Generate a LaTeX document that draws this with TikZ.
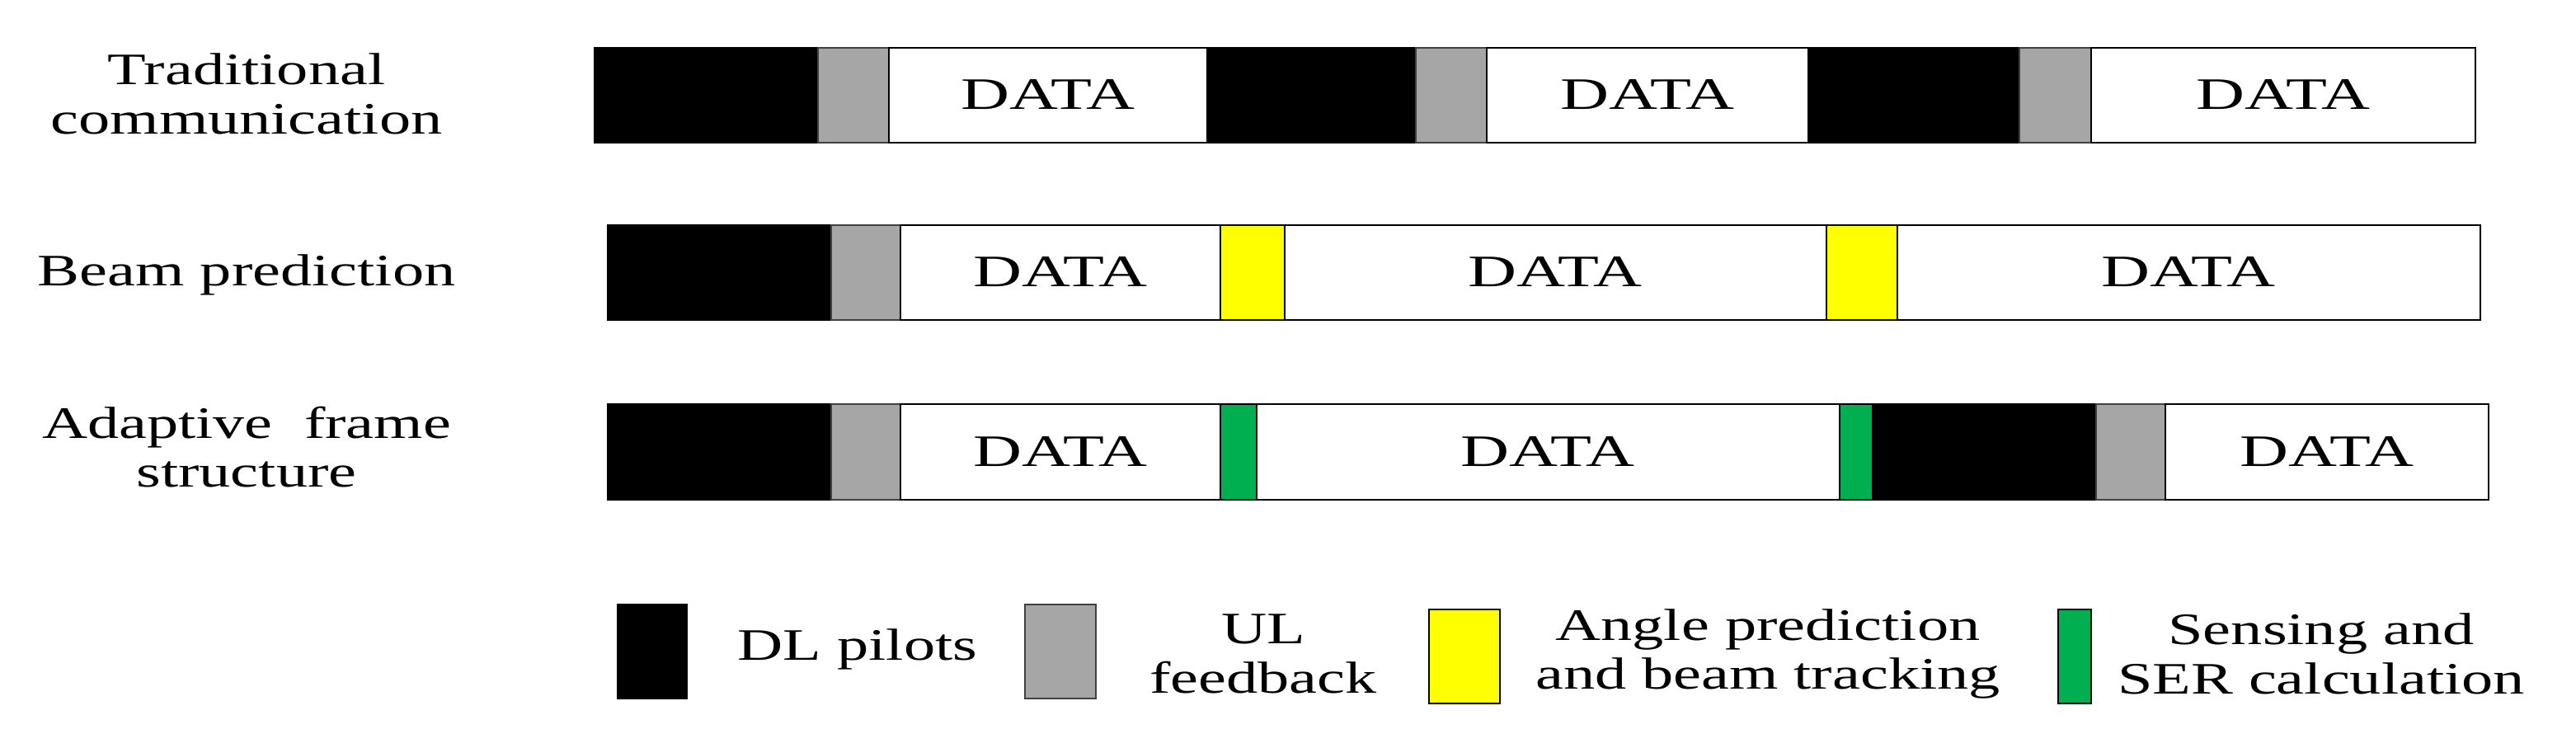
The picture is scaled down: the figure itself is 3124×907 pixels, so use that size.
\documentclass[tikz,border=0pt]{standalone}
\usepackage{fontspec}
\setmainfont{Liberation Serif}
\definecolor{ulgray}{HTML}{A6A6A6}
\definecolor{trackyellow}{HTML}{FFFF00}
\definecolor{sensegreen}{HTML}{00B050}

\begin{document}
\begin{tikzpicture}[x=0.01cm, y=-0.01cm, line width=0.7pt,
    pilot/.style={fill=black, draw=black},
    feedback/.style={fill=ulgray, draw=black!75},
    predict/.style={fill=trackyellow, draw=black},
    sense/.style={fill=sensegreen, draw=black},
    payload/.style={fill=white, draw=black},
    txt/.style={font=\fontsize{15.5}{17}\selectfont, xscale=1.4, align=center, inner sep=0pt},
    datatxt/.style={txt, xscale=1.07}]

\useasboundingbox (0,0) rectangle (3124,907);

% row labels
\node[txt] (lblTrad) at (299,114) {Traditional\\communication};
\node[txt] (lblBeam) at (299,333) {Beam prediction};
\node[txt] (lblAdapt) at (299,542) {Adaptive\ \ frame\\structure};

% traditional communication
\foreach \xa/\xb/\kind in {
                721/992/pilot, 992/1078/feedback, 1078/1464/payload,
                1464/1717/pilot, 1717/1803/feedback, 1803/2193/payload,
                2193/2449/pilot, 2449/2536/feedback, 2536/3002/payload}{
    \draw[\kind] (\xa,58) rectangle (\xb,173);
    };

% beam prediction
\foreach \xa/\xb/\kind in {
                737/1008/pilot, 1008/1092/feedback, 1092/1480/payload,
                1480/1558/predict, 1558/2215/payload,
                2215/2301/predict, 2301/3008/payload}{
    \draw[\kind] (\xa,273) rectangle (\xb,388);
    };

% adaptive frame structure
\foreach \xa/\xb/\kind in {
                737/1008/pilot, 1008/1092/feedback, 1092/1480/payload,
                1480/1524/sense, 1524/2231/payload, 2231/2271/sense,
                2271/2542/pilot, 2542/2626/feedback, 2626/3018/payload}{
    \draw[\kind] (\xa,490) rectangle (\xb,606);
    };

% DATA labels
\foreach \NAME/\X/\Y in {
                dA1/1271/115, dA2/1998/115, dA3/2769/115,
                dB1/1286/330, dB2/1886/330, dB3/2654/330,
                dC1/1286/548, dC2/1877/548, dC3/2822/548}{
    \node[datatxt] (\NAME) at (\X,\Y) {DATA};
    };

% legend
\draw[pilot] (749,733) rectangle (833,847);
\node[txt] (legPilot) at (1040,787) {DL pilots};
\draw[feedback] (1243,733) rectangle (1329,847);
\node[txt] (legFeed) at (1532,793) {UL\\feedback};
\draw[predict] (1733,739) rectangle (1819,853);
\node[txt] (legTrack) at (2144,793) {Angle prediction\\and beam tracking};
\draw[sense] (2496,739) rectangle (2536,853);
\node[txt] (legSense) at (2815,793) {Sensing and\\SER calculation};

\end{tikzpicture}
\end{document}
